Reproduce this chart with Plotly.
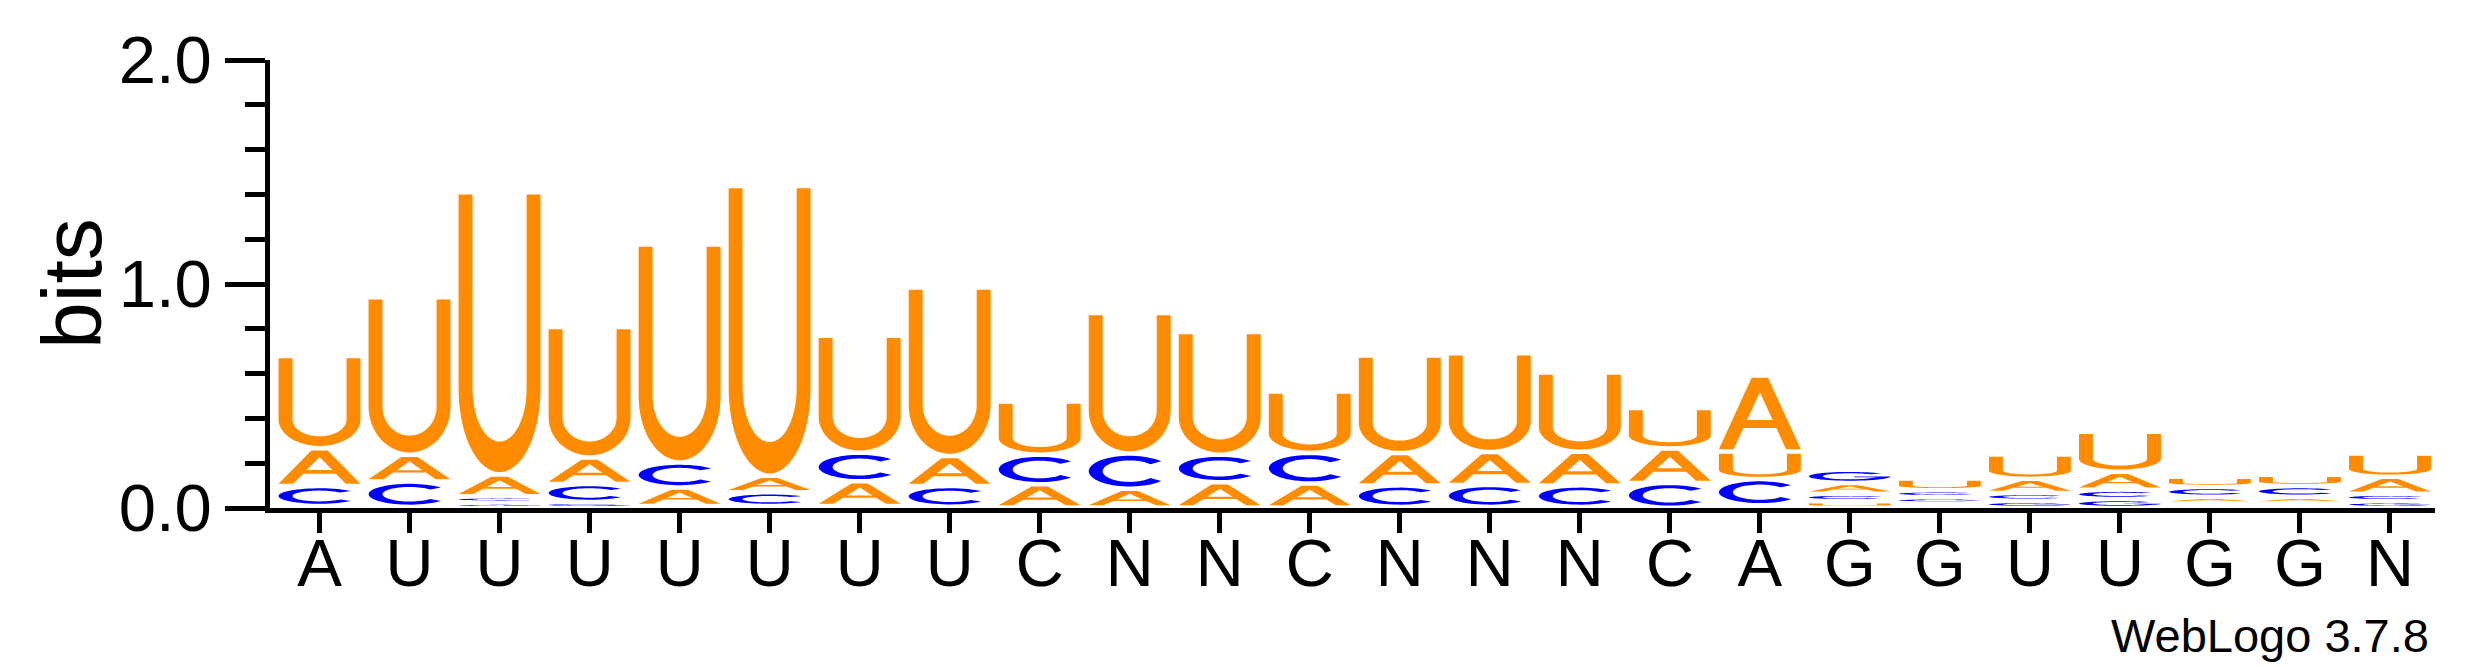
import numpy as np
import plotly.graph_objects as go

# ---------------- data (bits per letter) ----------------
positions = list(range(24))
consensus = ["A", "U", "U", "U", "U", "U", "U", "U", "C", "N", "N", "C",
             "N", "N", "N", "C", "A", "G", "G", "U", "U", "G", "G", "N"]
bits_A = [0.169, 0.120, 0.098, 0.118, 0.083, 0.074, 0.110, 0.134, 0.104, 0.084, 0.113, 0.107,
          0.144, 0.147, 0.150, 0.154, 0.339, 0.048, 0.020, 0.063, 0.080, 0.030, 0.030, 0.075]
bits_C = [0.089, 0.113, 0.028, 0.080, 0.111, 0.061, 0.128, 0.092, 0.132, 0.157, 0.123, 0.137,
          0.096, 0.098, 0.096, 0.111, 0.117, 0.034, 0.031, 0.035, 0.042, 0.044, 0.048, 0.034]
bits_G = [0.009, 0.005, 0.024, 0.027, 0.009, 0.009, 0.009, 0.006, 0.002, 0.002, 0.002, 0.002,
          0.005, 0.005, 0.005, 0.001, 0.012, 0.059, 0.028, 0.032, 0.040, 0.020, 0.020, 0.030]
bits_U = [0.412, 0.703, 1.260, 0.583, 0.973, 1.294, 0.522, 0.752, 0.237, 0.628, 0.548, 0.274,
          0.436, 0.441, 0.354, 0.180, 0.123, 0.030, 0.053, 0.109, 0.178, 0.045, 0.050, 0.104]
y_ticks = [0.0, 1.0, 2.0]
y_tick_text = ["0.0", "1.0", "2.0"]

# ---------------- style ----------------
ORANGE = "#FF8C00"
BLUE = "#0000FF"
colors = {"A": ORANGE, "U": ORANGE, "C": BLUE, "G": BLUE}
FONT = "Liberation Sans, Arial, Helvetica, sans-serif"
PAD = 0.01        # vertical gap kept around each glyph (bits)
HALF = 0.455      # half width of a glyph (columns)


def arc(cx, cy, rx, ry, a0, a1, n=36):
    t = np.radians(np.linspace(a0, a1, n))
    return list(zip(cx + rx * np.cos(t), cy + ry * np.sin(t)))


def glyph_U():
    s, hb, t = 0.17, 0.30, 0.11
    ring = [(0, 1), (0, hb)]
    ring += arc(0.5, hb, 0.5, hb, 180, 360)
    ring += [(1, 1), (1 - s, 1), (1 - s, hb)]
    ring += arc(0.5, hb, 0.5 - s, hb - t, 360, 180)
    ring += [(s, 1)]
    return [ring]


def glyph_A():
    outer = [(0, 0), (0.40, 1), (0.60, 1), (1, 0), (0.82, 0), (0.70, 0.30), (0.30, 0.30), (0.18, 0)]
    hole = [(0.344, 0.41), (0.656, 0.41), (0.5, 0.80)]
    return [outer, hole]


def glyph_C():
    ring = arc(0.5, 0.5, 0.5, 0.5, 40, 320, 48)
    ring += arc(0.5, 0.5, 0.33, 0.35, 320, 40, 48)
    return [ring]


def glyph_G():
    ring = arc(0.5, 0.5, 0.5, 0.5, 40, 350, 48)
    ring += [(1.0, 0.47), (0.55, 0.47), (0.55, 0.38), (0.84, 0.38)]
    ring += arc(0.5, 0.5, 0.33, 0.35, -30, -320, 48)
    return [ring]


glyphs = {"A": glyph_A(), "C": glyph_C(), "G": glyph_G(), "U": glyph_U()}


def glyph_path(letter, xc, y0, y1):
    parts = []
    for ring in glyphs[letter]:
        pts = [(xc - HALF + u * 2 * HALF, y0 + v * (y1 - y0)) for u, v in ring]
        parts.append("M " + " L ".join(f"{x:.4f},{y:.5f}" for x, y in pts) + " Z")
    return " ".join(parts)


shapes = []
for i, pos in enumerate(positions):
    stack = [("A", bits_A[i]), ("C", bits_C[i]), ("G", bits_G[i]), ("U", bits_U[i])]
    stack.sort(key=lambda kv: kv[1])
    base = 0.0
    for letter, h in stack:
        if h - 2 * PAD > 0.002:
            shapes.append(dict(type="path", xref="x", yref="y", layer="above",
                               path=glyph_path(letter, pos, base + PAD, base + h - PAD),
                               fillcolor=colors[letter], fillrule="evenodd",
                               line=dict(width=0)))
        base += h

fig = go.Figure()
fig.add_trace(go.Scatter(x=positions, y=[0] * len(positions), mode="markers",
                         marker=dict(opacity=0), hoverinfo="skip", showlegend=False))

L, R, T, B = 262, 48, 52, 167
W, H = 2475, 667
pw, ph = W - L - R, H - T - B

fig.update_layout(
    width=W, height=H,
    margin=dict(l=L, r=R, t=T, b=B),
    paper_bgcolor="white", plot_bgcolor="white",
    showlegend=False,
    shapes=shapes,
    font=dict(family=FONT, color="black"),
    xaxis=dict(range=[-0.55, 23.5], tickmode="array", tickvals=positions, ticktext=consensus,
               ticks="outside", ticklen=20, tickwidth=4.5, tickcolor="black",
               ticklabelstandoff=-27,
               showline=True, linewidth=5, linecolor="black",
               showgrid=False, zeroline=False, tickfont=dict(size=67, family=FONT),
               fixedrange=True),
    yaxis=dict(range=[0, 2], tickmode="array", tickvals=y_ticks, ticktext=y_tick_text,
               ticks="outside", ticklen=40, tickwidth=4.5, tickcolor="black",
               showline=True, linewidth=4.5, linecolor="black",
               showgrid=False, zeroline=False, tickfont=dict(size=67, family=FONT),
               minor=dict(dtick=0.2, tick0=0, ticks="outside", ticklen=20, tickwidth=4.5,
                          tickcolor="black", showgrid=False),
               fixedrange=True),
    annotations=[
        dict(text="bits", xref="paper", yref="paper", x=(64 - L) / pw, y=0.5,
             xanchor="center", yanchor="middle", textangle=-90, showarrow=False,
             font=dict(size=84, family=FONT, color="black")),
        dict(text="WebLogo 3.7.8", xref="paper", yref="paper", x=(2423 - L) / pw,
             y=-(627 - (H - B)) / ph, xanchor="right", yanchor="middle", showarrow=False,
             font=dict(size=47, family=FONT, color="black")),
    ],
)

fig.write_html("out.html")
